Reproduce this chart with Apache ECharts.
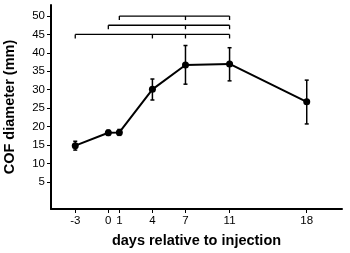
<!DOCTYPE html>
<html>
<head>
<meta charset="utf-8">
<script src="https://cdn.jsdelivr.net/npm/echarts@6/dist/echarts.min.js"></script>
<style>
  html, body { margin: 0; padding: 0; background: #fff; }
  #chart { width: 350px; height: 253px; }
</style>
</head>
<body>
<div id="chart"></div>
<script>
// data
const days = [-3, 0, 1, 4, 7, 11, 18]
const meanDiameter = [14.8, 18.3, 18.4, 30.1, 36.7, 37.0, 26.7]
const errLow = [13.6, 17.6, 17.6, 27.2, 31.5, 32.4, 20.7]
const errHigh = [16.0, 19.0, 19.2, 32.9, 42.0, 41.4, 32.6]
const yTicks = [5, 10, 15, 20, 25, 30, 35, 40, 45, 50]
// significance brackets: level and the days they mark
const bracketLevels = [45, 47.5, 50]
const bracketDays = [[-3, 4, 7, 11], [0, 7, 11], [1, 7, 11]]

const font = 'Arial, "Liberation Sans", sans-serif'
const chart = echarts.init(document.getElementById('chart'))

const option = {
  animation: false,
  grid: { left: 51, right: 8, top: 5, bottom: 44, outerBoundsMode: 'none' },
  xAxis: {
    type: 'value',
    min: -5.2,
    max: 21.2,
    name: 'days relative to injection',
    nameLocation: 'middle',
    nameGap: 24,
    nameTextStyle: { fontFamily: font, fontSize: 14.5, fontWeight: 'bold', color: '#000' },
    splitLine: { show: false },
    axisLine: { onZero: false, lineStyle: { color: '#000', width: 2 } },
    axisTick: { customValues: days, length: 4, lineStyle: { color: '#000', width: 1 } },
    axisLabel: { customValues: days, margin: 6, fontFamily: font, fontSize: 11.5, color: '#000' }
  },
  yAxis: {
    type: 'value',
    min: -2.4,
    max: 53,
    name: 'COF diameter (mm)',
    nameLocation: 'middle',
    nameGap: 34,
    nameTextStyle: { fontFamily: font, fontSize: 14.5, fontWeight: 'bold', color: '#000' },
    splitLine: { show: false },
    axisLine: { show: true, onZero: false, lineStyle: { color: '#000', width: 2 } },
    axisTick: { show: true, customValues: yTicks, length: 4, lineStyle: { color: '#000', width: 1 } },
    axisLabel: { customValues: yTicks, margin: 6, fontFamily: font, fontSize: 11.5, color: '#000' }
  },
  series: [
    {
      type: 'custom',
      data: bracketLevels.map((lv, i) => [i, lv]),
      renderItem: (params, api) => {
        const i = api.value(0)
        const lv = api.value(1)
        const ds = bracketDays[i]
        const left = api.coord([ds[0], lv])
        const right = api.coord([ds[ds.length - 1], lv])
        const children = [{
          type: 'line',
          shape: { x1: left[0], y1: left[1], x2: right[0], y2: right[1] },
          style: { stroke: '#000', lineWidth: 1.3 }
        }]
        ds.forEach((d) => {
          const p = api.coord([d, lv])
          children.push({
            type: 'line',
            shape: { x1: p[0], y1: p[1], x2: p[0], y2: p[1] + 4 },
            style: { stroke: '#000', lineWidth: 1.3 }
          })
        })
        return { type: 'group', children }
      },
      z: 1
    },
    {
      type: 'custom',
      data: days.map((d, i) => [d, errLow[i], errHigh[i]]),
      renderItem: (params, api) => {
        const lo = api.coord([api.value(0), api.value(1)])
        const hi = api.coord([api.value(0), api.value(2)])
        const w = 2
        const st = { stroke: '#000', lineWidth: 1.5 }
        return {
          type: 'group',
          children: [
            { type: 'line', shape: { x1: lo[0], y1: lo[1], x2: hi[0], y2: hi[1] }, style: st },
            { type: 'line', shape: { x1: lo[0] - w, y1: lo[1], x2: lo[0] + w, y2: lo[1] }, style: st },
            { type: 'line', shape: { x1: hi[0] - w, y1: hi[1], x2: hi[0] + w, y2: hi[1] }, style: st }
          ]
        }
      },
      z: 2
    },
    {
      type: 'line',
      data: days.map((d, i) => [d, meanDiameter[i]]),
      symbol: 'circle',
      symbolSize: 7,
      lineStyle: { color: '#000', width: 2 },
      itemStyle: { color: '#000' },
      z: 3
    }
  ]
}

chart.setOption(option)
</script>
</body>
</html>
